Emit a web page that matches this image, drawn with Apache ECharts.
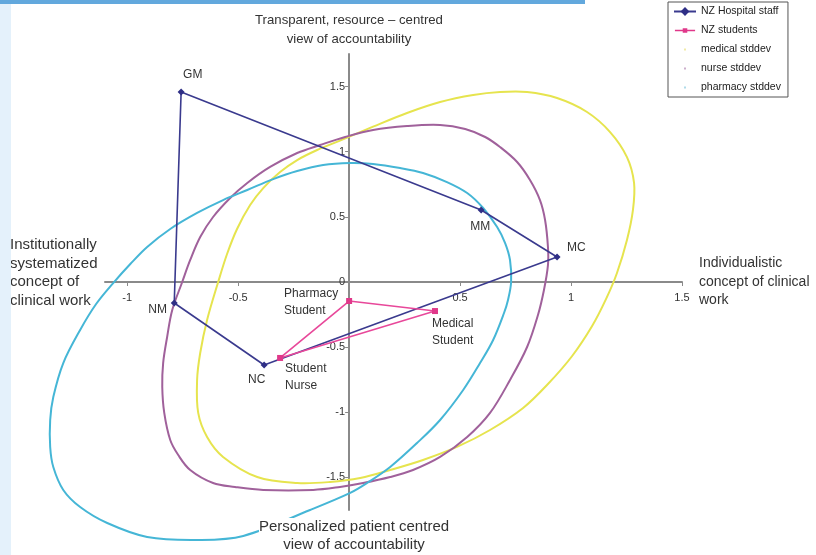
<!DOCTYPE html>
<html><head><meta charset="utf-8">
<script src="https://cdn.jsdelivr.net/npm/echarts@6/dist/echarts.min.js"></script>
<style>html,body{margin:0;padding:0;background:#fff}#c{width:816px;height:555px}</style>
</head><body><div id="c"></div>
<script>
// ---- data ----
const xTicks = [-1, -0.5, 0.5, 1, 1.5];
const yTicks = [-1.5, -1, -0.5, 0, 0.5, 1, 1.5];
const staffNames = ['GM', 'MM', 'MC', 'NC', 'NM'];
const staffPoints = [[-0.757, 1.458], [0.595, 0.553], [0.937, 0.192], [-0.383, -0.637], [-0.788, -0.161]];
const studentNames = ['Pharmacy\nStudent', 'Medical\nStudent', 'Student\nNurse'];
const studentPoints = [[0, -0.146], [0.387, -0.223], [-0.311, -0.583]];
const medicalSd = [[0.680,1.458],[0.802,1.458],[0.937,1.412],[1.072,1.305],[1.176,1.151],[1.252,0.959],[1.284,0.760],[1.279,0.553],[1.252,0.322],[1.207,0.069],[1.158,-0.130],[1.095,-0.338],[1.005,-0.568],[0.896,-0.783],[0.784,-0.967],[0.635,-1.136],[0.486,-1.266],[0.333,-1.366],[0.185,-1.443],[0.050,-1.504],[-0.086,-1.535],[-0.234,-1.543],[-0.414,-1.497],[-0.568,-1.343],[-0.640,-1.190],[-0.680,-1.005],[-0.685,-0.752],[-0.671,-0.545],[-0.640,-0.292],[-0.590,0],[-0.550,0.215],[-0.505,0.407],[-0.446,0.591],[-0.387,0.721],[-0.311,0.844],[-0.234,0.936],[-0.144,1.013],[-0.041,1.085],[0.108,1.192],[0.261,1.297],[0.410,1.381],[0.559,1.435]];
const nurseSd = [[0.261,1.197],[0.410,1.205],[0.523,1.174],[0.613,1.113],[0.680,1.036],[0.757,0.921],[0.815,0.783],[0.860,0.629],[0.883,0.476],[0.896,0.269],[0.896,0.130],[0.878,-0.061],[0.851,-0.253],[0.802,-0.499],[0.725,-0.752],[0.635,-1.005],[0.532,-1.190],[0.410,-1.343],[0.288,-1.443],[0.185,-1.497],[0.063,-1.543],[-0.041,-1.573],[-0.162,-1.596],[-0.387,-1.596],[-0.514,-1.573],[-0.613,-1.543],[-0.716,-1.443],[-0.770,-1.328],[-0.806,-1.213],[-0.833,-1.005],[-0.842,-0.806],[-0.838,-0.622],[-0.820,-0.422],[-0.797,-0.215],[-0.752,0],[-0.716,0.169],[-0.671,0.345],[-0.613,0.499],[-0.536,0.645],[-0.459,0.760],[-0.356,0.883],[-0.234,0.990],[-0.131,1.051],[-0.018,1.113],[0.108,1.167]];
const pharmacySd = [[0.005,0.913],[0.108,0.906],[0.230,0.875],[0.333,0.837],[0.441,0.767],[0.532,0.683],[0.604,0.568],[0.667,0.422],[0.703,0.299],[0.725,0.169],[0.730,0],[0.716,-0.138],[0.698,-0.238],[0.649,-0.445],[0.590,-0.622],[0.514,-0.829],[0.410,-1.059],[0.306,-1.236],[0.185,-1.420],[0.081,-1.543],[0.005,-1.619],[-0.176,-1.750],[-0.477,-1.949],[-0.685,-1.980],[-0.910,-1.957],[-1.090,-1.850],[-1.212,-1.727],[-1.288,-1.596],[-1.333,-1.420],[-1.347,-1.266],[-1.347,-1.059],[-1.333,-0.883],[-1.288,-0.622],[-1.212,-0.368],[-1.140,-0.169],[-1.063,-0.008],[-0.986,0.138],[-0.910,0.269],[-0.806,0.407],[-0.685,0.530],[-0.568,0.629],[-0.459,0.706],[-0.342,0.790],[-0.234,0.852],[-0.117,0.898]];
const seriesNames = ['NZ Hospital staff', 'NZ students', 'medical stddev', 'nurse stddev', 'pharmacy stddev'];

// ---- layout / style (not data) ----
const staffLabelOffsets = [[2, -17], [-11, 17], [10, -9], [-16, 15], [-26, 7]];
const studentLabelOffsets = [[-65, 1], [-3, 21], [5, 19]];
const FONT = 'Liberation Sans, Arial, sans-serif';
const axisColor = '#8a8a8a';
const X_MIN = -1.1, X_MAX = 1.5, Y_MIN = -1.75, Y_MAX = 1.75;
const G = { left: 105, top: 54, width: 577, height: 456 };
const pxPerX = G.width / (X_MAX - X_MIN);
// wider hidden grid with the same scale, used by the std-dev outlines
const X2_MIN = -1.5, X2_MAX = 1.5;
const G2 = { left: G.left - (X_MIN - X2_MIN) * pxPerX, top: G.top, width: (X2_MAX - X2_MIN) * pxPerX, height: G.height };
// place both visible axes (line, ticks and labels) through the origin
const xAxisOffset = -G.height * (0 - Y_MIN) / (Y_MAX - Y_MIN);
const yAxisOffset = -G.width * (0 - X_MIN) / (X_MAX - X_MIN);

function labelled(points, names, offsets) {
  const out = points.map((p, i) => ({
    value: p,
    label: {
      show: true, formatter: names[i], position: 'inside',
      align: 'left', verticalAlign: 'middle', offset: offsets[i],
      fontFamily: FONT, fontSize: 12, color: '#333', lineHeight: 17
    }
  }));
  out.push({ value: points[0], symbolSize: 0 });
  return out;
}

// closed smooth outline through the read points, mapped by the axes (api.coord)
function outlineSeries(name, pts, color) {
  return {
    name: name, type: 'custom', xAxisIndex: 1, yAxisIndex: 1, clip: false, z: 2,
    itemStyle: { color: color },
    data: pts,
    renderItem: function (params, api) {
      if (params.dataIndex !== 0) return null;
      const points = pts.map(function (p) { return api.coord(p); });
      return {
        type: 'polygon', silent: true,
        shape: { points: points, smooth: 0.35 },
        style: { fill: 'none', stroke: color, lineWidth: 2 }
      };
    }
  };
}

const dotIcon = 'path://M0,0M22,12M10,5h2v2h-2z';
const squareLineIcon = 'path://M0,0M22,12M0,5.3H8.5V3.5H13.5V5.3H22V6.7H13.5V8.5H8.5V6.7H0Z';
const hidden = { show: false };

const chart = echarts.init(document.getElementById('c'), null, { renderer: 'canvas' });
chart.setOption({
  animation: false,
  backgroundColor: '#fff',
  grid: [
    { left: G.left, top: G.top, width: G.width, height: G.height, containLabel: false },
    { left: G2.left, top: G2.top, width: G2.width, height: G2.height, containLabel: false }
  ],
  xAxis: [{
    type: 'value', gridIndex: 0, min: X_MIN, max: X_MAX, offset: xAxisOffset,
    axisLine: { onZero: false, lineStyle: { color: axisColor, width: 2 } },
    axisTick: { show: true, customValues: xTicks, length: 4, lineStyle: { color: axisColor, width: 1 } },
    axisLabel: { customValues: xTicks, fontFamily: FONT, fontSize: 11, color: '#333', margin: 10 },
    splitLine: { show: false }
  }, {
    type: 'value', gridIndex: 1, min: X2_MIN, max: X2_MAX,
    axisLine: hidden, axisTick: hidden, axisLabel: hidden, splitLine: hidden
  }],
  yAxis: [{
    type: 'value', gridIndex: 0, min: Y_MIN, max: Y_MAX, offset: yAxisOffset,
    axisLine: { onZero: false, lineStyle: { color: axisColor, width: 2 } },
    axisTick: { show: true, customValues: yTicks, length: 4, lineStyle: { color: axisColor, width: 1 } },
    axisLabel: { customValues: yTicks, fontFamily: FONT, fontSize: 11, color: '#333', margin: 4 },
    splitLine: { show: false }
  }, {
    type: 'value', gridIndex: 1, min: Y_MIN, max: Y_MAX,
    axisLine: hidden, axisTick: hidden, axisLabel: hidden, splitLine: hidden
  }],
  legend: {
    orient: 'vertical', left: 668, top: 2,
    backgroundColor: '#fff', borderColor: '#555', borderWidth: 1,
    padding: [4, 7, 4, 5], itemGap: 8, itemWidth: 22, itemHeight: 11,
    textStyle: { fontFamily: FONT, fontSize: 10.5, color: '#222' },
    data: [
      { name: seriesNames[0] },
      { name: seriesNames[1], icon: squareLineIcon },
      { name: seriesNames[2], icon: dotIcon, itemStyle: { color: '#efe9a0' } },
      { name: seriesNames[3], icon: dotIcon, itemStyle: { color: '#c8a8c8' } },
      { name: seriesNames[4], icon: dotIcon, itemStyle: { color: '#a8d8e8' } }
    ]
  },
  series: [
    outlineSeries(seriesNames[2], medicalSd, '#e6e44e'),
    outlineSeries(seriesNames[3], nurseSd, '#a0619b'),
    outlineSeries(seriesNames[4], pharmacySd, '#45b6d6'),
    { name: seriesNames[0], type: 'line', data: labelled(staffPoints, staffNames, staffLabelOffsets), clip: false,
      symbol: 'diamond', symbolSize: 7, color: '#2f2f86', lineStyle: { width: 1.6, color: '#3a3a8e' }, z: 4 },
    { name: seriesNames[1], type: 'line', data: labelled(studentPoints, studentNames, studentLabelOffsets), clip: false,
      symbol: 'rect', symbolSize: 6, color: '#e0388a', lineStyle: { width: 1.6, color: '#e8489a' }, z: 5 }
  ],
  graphic: [
    { type: 'rect', shape: { x: 0, y: 0, width: 585, height: 4 }, style: { fill: '#62a8dd' }, z: 100 },
    { type: 'rect', shape: { x: 0, y: 4, width: 11, height: 551 }, style: { fill: '#e4f1fb' }, z: 100 },
    { type: 'text', x: 349, y: 11, style: { text: 'Transparent, resource – centred\nview of accountability', font: '13.2px ' + FONT, fill: '#333', align: 'center', lineHeight: 19 }, z: 50 },
    { type: 'text', x: 10, y: 236, style: { text: 'Institutionally\nsystematized\nconcept of\nclinical work', font: '15px ' + FONT, fill: '#333', align: 'left', lineHeight: 18.5 }, z: 50 },
    { type: 'text', x: 699, y: 254, style: { text: 'Individualistic\nconcept of clinical\nwork', font: '14px ' + FONT, fill: '#333', align: 'left', lineHeight: 18.5 }, z: 50 },
    { type: 'text', x: 354, y: 518, style: { text: 'Personalized patient centred\nview of accountability', font: '15px ' + FONT, fill: '#333', align: 'center', lineHeight: 18, backgroundColor: '#fff' }, z: 50 }
  ]
});
</script></body></html>
